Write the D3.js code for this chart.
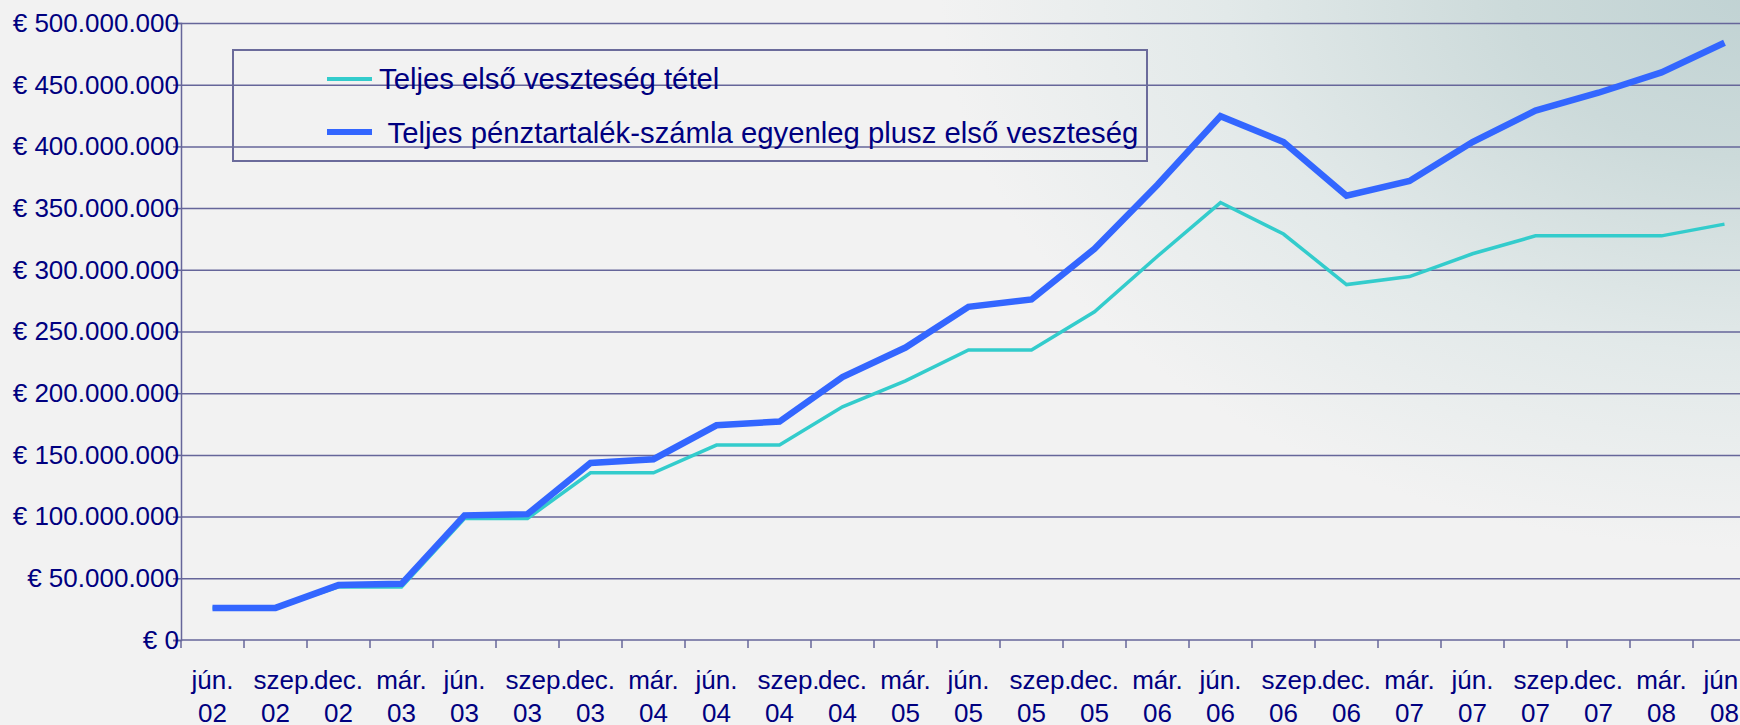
<!DOCTYPE html>
<html>
<head>
<meta charset="utf-8">
<script src="https://cdn.jsdelivr.net/npm/d3@7"></script>
<style>
  html, body { margin: 0; padding: 0; background: #f2f2f2; }
  svg { display: block; font-family: "Liberation Sans", Arial, sans-serif; }
</style>
</head>
<body>
<div id="chart"></div>
<script>
const months = ["jún.", "szep.", "dec.", "már.", "jún.", "szep.", "dec.", "már.", "jún.", "szep.", "dec.", "már.", "jún.",
  "szep.", "dec.", "már.", "jún.", "szep.", "dec.", "már.", "jún.", "szep.", "dec.", "már.", "jún."];
const years = ["02", "02", "02", "03", "03", "03", "03", "04", "04", "04", "04", "05", "05",
  "05", "05", "06", "06", "06", "06", "07", "07", "07", "07", "08", "08"];
const categories = months.map((m, i) => m + " " + years[i]);

// millions of euro
const firstLoss = [26, 26, 43, 43, 98.5, 98.5, 135.5, 135.5, 158, 158, 189, 210, 235,
  235, 266, 311, 354.5, 329, 288, 294.5, 313, 327.5, 327.5, 327.5, 337];
const reservePlusLoss = [26, 26, 44.5, 45.5, 101, 102, 143.5, 146.5, 174, 177, 213, 237, 270,
  276, 317, 369, 424.5, 403.5, 360, 372, 403.5, 429, 443.5, 460, 484];

const seriesNames = ["Teljes első veszteség tétel", " Teljes pénztartalék-számla egyenleg plusz első veszteség"];
const yTicks = [0, 50e6, 100e6, 150e6, 200e6, 250e6, 300e6, 350e6, 400e6, 450e6, 500e6];

const W = 1740, H = 725;
const plotLeft = 181, plotTop = 23, plotBottom = 640;
const step = 63;
const navy = "#000080";
const gridColor = "#66669a";

const svg = d3.select("#chart").append("svg").attr("width", W).attr("height", H);

const defs = svg.append("defs");
const grad = defs.append("radialGradient")
  .attr("id", "bg")
  .attr("gradientUnits", "userSpaceOnUse")
  .attr("cx", 0).attr("cy", 0).attr("r", 1)
  .attr("gradientTransform", "translate(1760,-10) scale(820,560)");
grad.append("stop").attr("offset", 0).attr("stop-color", "#c0d2d3");
grad.append("stop").attr("offset", 0.3).attr("stop-color", "#ccdada");
grad.append("stop").attr("offset", 0.65).attr("stop-color", "#e2e9e9");
grad.append("stop").attr("offset", 1).attr("stop-color", "#f2f2f2");

svg.append("rect").attr("width", W).attr("height", H).attr("fill", "#f2f2f2");
svg.append("rect").attr("width", W).attr("height", H).attr("fill", "url(#bg)");

const x = d3.scaleBand()
  .domain(categories)
  .range([plotLeft, plotLeft + step * categories.length])
  .padding(0);

const y = d3.scaleLinear()
  .domain([0, 500e6])
  .range([plotBottom, plotTop]);

const fmt = v => v === 0 ? "€ 0" : "€ " + d3.format(",")(v).replace(/,/g, ".");

// gridlines
svg.append("g")
  .attr("transform", `translate(${plotLeft},0)`)
  .call(d3.axisLeft(y).tickValues(yTicks.slice(1)).tickSize(-(W - plotLeft)).tickFormat(""))
  .call(g => g.select(".domain").remove())
  .call(g => g.selectAll("line").attr("stroke", gridColor).attr("stroke-width", 1.5));

// y axis
svg.append("g")
  .attr("transform", `translate(${plotLeft},0)`)
  .call(d3.axisLeft(y).tickValues(yTicks).tickSize(8).tickPadding(-6).tickFormat(fmt))
  .call(g => g.select(".domain").attr("stroke", gridColor).attr("stroke-width", 1.5))
  .call(g => g.selectAll("line").attr("stroke", gridColor).attr("stroke-width", 1.5))
  .call(g => g.selectAll("text")
    .attr("fill", navy)
    .attr("font-size", 26)
    .attr("font-family", "Liberation Sans, Arial, sans-serif"));

// x axis line + boundary ticks
const xg = svg.append("g");
xg.append("line")
  .attr("x1", plotLeft).attr("x2", W)
  .attr("y1", y(0)).attr("y2", y(0))
  .attr("stroke", gridColor).attr("stroke-width", 1.5);
xg.selectAll(".tk")
  .data(categories)
  .join("line")
  .attr("class", "tk")
  .attr("x1", d => x(d)).attr("x2", d => x(d))
  .attr("y1", y(0)).attr("y2", y(0) + 8)
  .attr("stroke", gridColor).attr("stroke-width", 1.5);

const labels = xg.selectAll(".lbl")
  .data(categories)
  .join("text")
  .attr("class", "lbl")
  .attr("text-anchor", "middle")
  .attr("fill", navy)
  .attr("font-size", 26);
labels.append("tspan")
  .attr("x", d => x(d) + x.bandwidth() / 2 + (d.startsWith("szep") ? 9 : 0))
  .attr("y", 689)
  .text((d, i) => months[i]);
labels.append("tspan")
  .attr("x", d => x(d) + x.bandwidth() / 2)
  .attr("y", 722)
  .text((d, i) => years[i]);

// lines
const line = d3.line()
  .x((d, i) => x(categories[i]) + x.bandwidth() / 2)
  .y(d => y(d * 1e6));

svg.append("path")
  .datum(firstLoss)
  .attr("d", line)
  .attr("fill", "none")
  .attr("stroke", "#33cccc")
  .attr("stroke-width", 3.5)
  .attr("stroke-linejoin", "miter");

svg.append("path")
  .datum(reservePlusLoss)
  .attr("d", line)
  .attr("fill", "none")
  .attr("stroke", "#3366ff")
  .attr("stroke-width", 6.5)
  .attr("stroke-linejoin", "miter");

// legend
const lg = svg.append("g");
lg.append("rect")
  .attr("x", 233).attr("y", 50).attr("width", 914).attr("height", 111)
  .attr("fill", "none").attr("stroke", "#6b6b9b").attr("stroke-width", 2);

const legendItems = [
  { name: seriesNames[0], color: "#33cccc", w: 4, ly: 79, ty: 89, tx: 379 },
  { name: seriesNames[1], color: "#3366ff", w: 6, ly: 132, ty: 143, tx: 380 }
];
const li = lg.selectAll(".li").data(legendItems).join("g").attr("class", "li");
li.append("line")
  .attr("x1", 327).attr("x2", 372)
  .attr("y1", d => d.ly).attr("y2", d => d.ly)
  .attr("stroke", d => d.color).attr("stroke-width", d => d.w);
li.append("text")
  .attr("x", d => d.tx).attr("y", d => d.ty)
  .attr("fill", navy)
  .attr("font-size", 29.3)
  .attr("xml:space", "preserve")
  .style("white-space", "pre")
  .text(d => d.name);
</script>
</body>
</html>
